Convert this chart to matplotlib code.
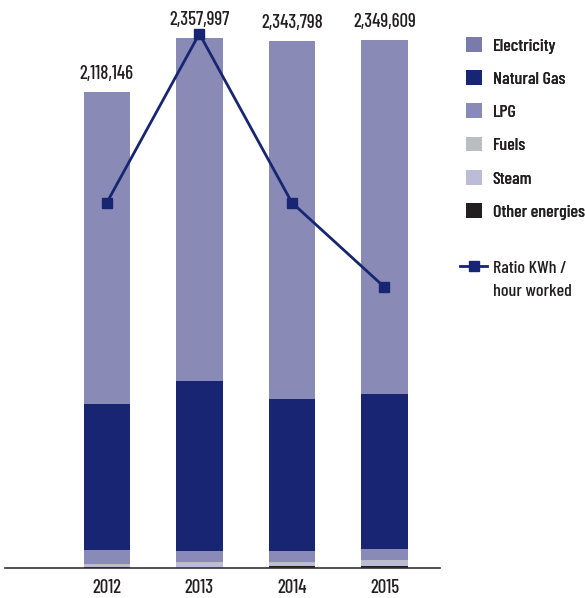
import numpy as np
import matplotlib.pyplot as plt
from matplotlib.patches import Patch
from matplotlib.lines import Line2D

plt.rcParams['font.family'] = ['Barlow Condensed', 'DejaVu Sans']
plt.rcParams['font.weight'] = 'medium'

years = ['2012', '2013', '2014', '2015']
totals = [2118146, 2357997, 2343798, 2349609]

# energy consumption by source (kWh), stacked bottom to top
other_energies = [4450, 1000, 8900, 8900]
steam = [8900, 20000, 13350, 22250]
fuels = [4450, 4450, 4450, 4450]
lpg = [62300, 48950, 48950, 48950]
natural_gas = [649700, 756500, 676400, 689750]
electricity = [t - (o + s + f + l + n) for t, o, s, f, l, n in
               zip(totals, other_energies, steam, fuels, lpg, natural_gas)]

ratio_kwh_hour = [16.0, 23.4, 16.0, 12.3]

series = [
    ('Other energies', other_energies, '#231f20'),
    ('Steam', steam, '#bcbcd9'),
    ('Fuels', fuels, '#bcbdc0'),
    ('LPG', lpg, '#8a8ab8'),
    ('Natural Gas', natural_gas, '#172572'),
    ('Electricity', electricity, '#8a8ab6'),
]
legend_colors = {'Electricity': '#7b7bab', 'Natural Gas': '#172572', 'LPG': '#8a8ab8',
                 'Fuels': '#bcbdc0', 'Steam': '#bcbcd9', 'Other energies': '#231f20'}

fs = 13.5
lfs = 13
txt_col = '#231f20'

fig = plt.figure(figsize=(5.85, 5.98), dpi=100)
ax = fig.add_axes([5 / 585, 30 / 598, 435 / 585, 548 / 598])

x = np.arange(len(years))
bottom = np.zeros(len(years))
for name, vals, col in series:
    ax.bar(x, vals, width=0.5, bottom=bottom, color=col, linewidth=0)
    bottom += np.array(vals)

for xi, t in zip(x, totals):
    ax.annotate(f'{t:,}', (xi, t), xytext=(0, 9), textcoords='offset pixels',
                ha='center', va='bottom', fontsize=fs, color=txt_col)

ax.set_xlim(-1.1, 3.6)
ax.set_ylim(0, 2438600)
ax.set_xticks(x)
ax.set_xticklabels(years, fontsize=fs, color=txt_col)
ax.tick_params(axis='x', length=0, pad=8)
ax.set_yticks([])
for side in ['top', 'right', 'left']:
    ax.spines[side].set_visible(False)
ax.spines['bottom'].set_color('#333333')
ax.spines['bottom'].set_linewidth(1.2)

ax2 = ax.twinx()
ax2.plot(x, ratio_kwh_hour, color='#172572', lw=2, marker='s', markersize=7)
ax2.set_ylim(0, 24)
ax2.set_yticks([])
for side in ['top', 'right', 'left', 'bottom']:
    ax2.spines[side].set_visible(False)

order = ['Electricity', 'Natural Gas', 'LPG', 'Fuels', 'Steam', 'Other energies']
handles = [Patch(facecolor=legend_colors[n], edgecolor='none') for n in order]
leg1 = fig.legend(handles, order, loc='upper left', bbox_to_anchor=(466 / 585, 1 - 37 / 598),
                  frameon=False, fontsize=lfs, handlelength=0.88, handleheight=0.88,
                  handletextpad=0.6, labelspacing=0.92, borderpad=0, borderaxespad=0,
                  labelcolor=txt_col)
line_handle = Line2D([], [], color='#172572', lw=2, marker='s', markersize=7)
leg2 = fig.legend([line_handle], ['Ratio KWh /'], loc='upper left',
                  bbox_to_anchor=(460 / 585, 1 - 260 / 598), frameon=False, fontsize=lfs,
                  handlelength=1.5, handletextpad=0.33, borderpad=0, borderaxespad=0,
                  labelcolor=txt_col)
fig.text(493 / 585, 1 - 292 / 598, 'hour worked', fontsize=lfs, color=txt_col,
         va='center', ha='left')
fig.add_artist(leg1)

fig.savefig('out.png', dpi=100)
